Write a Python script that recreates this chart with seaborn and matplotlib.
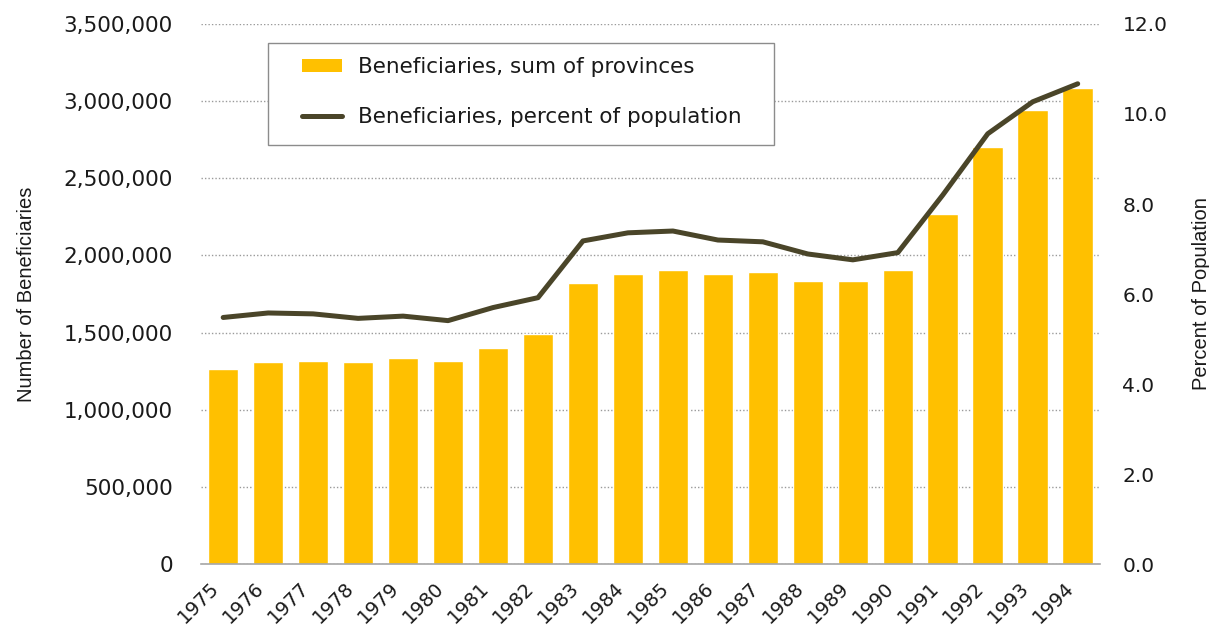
import numpy as np
import pandas as pd
import matplotlib
matplotlib.use("Agg")
import matplotlib.pyplot as plt
import seaborn as sns
from matplotlib.ticker import FuncFormatter, MultipleLocator, FixedLocator
from matplotlib.lines import Line2D
from matplotlib.patches import Patch, Rectangle
from matplotlib.transforms import ScaledTranslation

years = [str(y) for y in range(1975, 1995)]
beneficiaries = [1265000, 1310000, 1318000, 1309000, 1337000, 1318000, 1400000, 1490000,
                 1819000, 1881000, 1907000, 1880000, 1890000, 1836000, 1836000, 1907000,
                 2266000, 2703000, 2942000, 3087000]
percent_pop = [5.48, 5.58, 5.56, 5.46, 5.51, 5.41, 5.70, 5.92, 7.18, 7.36, 7.40, 7.20,
               7.16, 6.89, 6.76, 6.92, 8.20, 9.56, 10.27, 10.67]

sns.set_style("white")
plt.rcParams['font.family'] = ['DejaVu Sans']

BAR = "#FFC000"
LINE = "#4A4529"
TXT = "#1a1a1a"

fig = plt.figure(figsize=(12.09, 6.29), dpi=100)
ax = fig.add_axes([0.166, 0.103, 0.744, 0.859])

df = pd.DataFrame({"year": years, "ben": beneficiaries, "pct": percent_pop})
sns.barplot(data=df, x="year", y="ben", color=BAR, saturation=1, width=0.68, ax=ax)

ax.set_ylim(0, 3500000)
ax.set_xlim(-0.5, len(years) - 0.5)
ax.yaxis.set_major_locator(MultipleLocator(500000))
ax.yaxis.set_major_formatter(FuncFormatter(lambda v, p: f"{int(v):,}"))
ax.grid(axis="y", linestyle=(0, (1, 1.5)), color="#9a9a9a", linewidth=1.0)
ax.set_axisbelow(True)
for s in ["top", "right", "left"]:
    ax.spines[s].set_visible(False)
ax.spines["bottom"].set_color("#a6a6a6")
ax.spines["bottom"].set_linewidth(1.2)
ax.tick_params(axis="y", length=0, labelsize=15.5, colors=TXT, pad=20)
ax.set_xticks(range(len(years)))
ax.set_xticklabels(years, rotation=45, ha="right", va="center", rotation_mode="anchor",
                   fontsize=14, color=TXT)
ax.tick_params(axis="x", which="major", length=0, pad=15)
shift = ScaledTranslation(-5 / 72, 0, fig.dpi_scale_trans)
for lab in ax.get_xticklabels():
    lab.set_transform(lab.get_transform() + shift)
ax.xaxis.set_minor_locator(FixedLocator(np.arange(-0.5, len(years), 1.0)))
ax.tick_params(axis="x", which="minor", length=8, color="#a6a6a6", width=1.2)
ax.set_xlabel("")
ax.set_ylabel("Number of Beneficiaries", fontsize=14.5, color=TXT, labelpad=20,
              family="Liberation Sans")

ax2 = ax.twinx()
sns.lineplot(x=np.arange(len(years)), y=percent_pop, color=LINE, linewidth=3.6, ax=ax2)
ax2.set_ylim(0, 12)
ax2.yaxis.set_major_locator(MultipleLocator(2))
ax2.yaxis.set_major_formatter(FuncFormatter(lambda v, p: f"{v:.1f}"))
ax2.tick_params(axis="y", length=0, labelsize=14.5, colors=TXT, pad=16)
for s in ["top", "right", "left", "bottom"]:
    ax2.spines[s].set_visible(False)
ax2.set_ylabel("Percent of Population", fontsize=14.5, color=TXT, labelpad=18,
               family="Liberation Sans")
ax2.set_xlim(-0.5, len(years) - 0.5)

# legend frame box
fig.patches.append(Rectangle((268 / 1209, 1 - 145 / 629), 506 / 1209, 102 / 629,
                             transform=fig.transFigure, facecolor="white",
                             edgecolor="#8c8c8c", linewidth=1.0, zorder=5))

handles = [Patch(facecolor=BAR, edgecolor="none"),
           Line2D([0], [0], color=LINE, linewidth=3.6, solid_capstyle="round")]
leg = fig.legend(handles, ["Beneficiaries, sum of provinces", "Beneficiaries, percent of population"],
                 loc="upper left", bbox_to_anchor=(302 / 1209, 1 - 57 / 629),
                 bbox_transform=fig.transFigure, frameon=False,
                 fontsize=15.5, labelspacing=1.38, borderpad=0.0, handlelength=1.86,
                 handleheight=0.55, handletextpad=0.74, borderaxespad=0.0)
leg.set_zorder(6)
for t in leg.get_texts():
    t.set_color(TXT)

fig.savefig("out.png", dpi=100, facecolor="white")
